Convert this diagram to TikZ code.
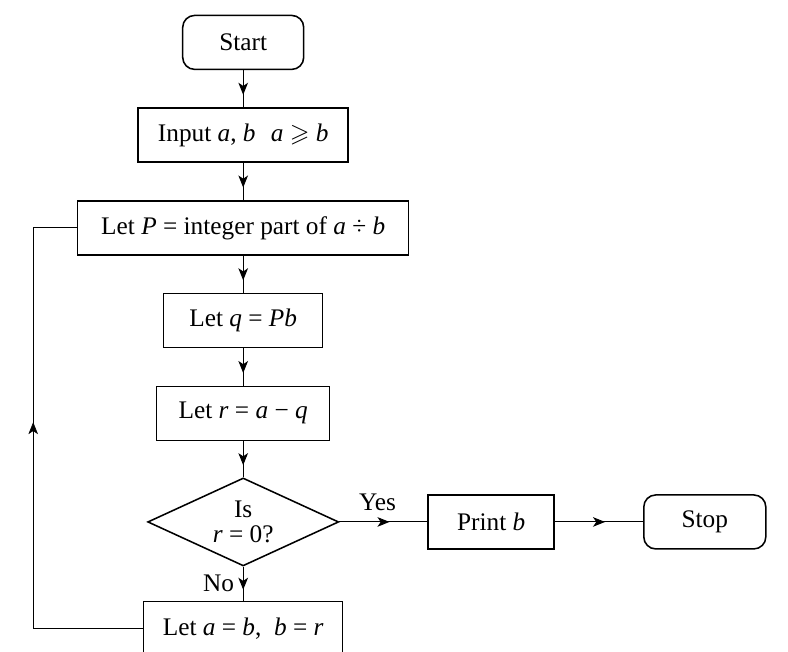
\documentclass[tikz,border=0pt]{standalone}
\usepackage{amssymb}
\usepackage{fontspec}
\setmainfont{Liberation Serif}
\usetikzlibrary{positioning,shapes.geometric,arrows.meta,decorations.markings}

\tikzset{
  box/.style={draw, line width=1.1pt, shape=rectangle, minimum height=1.35cm, font=\fontsize{18}{18}\selectfont},
  term/.style={box, rounded corners=0.3cm},
  decision/.style={draw, line width=1.1pt, shape=diamond, aspect=2.2, inner sep=0pt, style={minimum width=4.775cm, minimum height=2.2cm}, align=center, font=\fontsize{18}{18}\selectfont},
  wire/.style={line width=0.7pt},
  tip/.style={postaction={decorate}, decoration={markings, mark=at position 0.5 with {\pgftransformxshift{1.5mm}\arrow{Stealth[length=3mm, width=2.4mm, inset=0.8mm]}}}},
  flow/.style={wire, tip},
  lbl/.style={font=\fontsize{18}{18}\selectfont}
}

\begin{document}
\begin{tikzpicture}
        \useasboundingbox (0,0) rectangle (19.7,-16.275);
        \node[term, style={minimum width=3.025cm}] (start) at (6.08,-1.06) {Start};
        \node[box, style={minimum width=5.25cm}] (input) [below=0.93cm of start] {Input \textit{a}, \textit{b}\hspace{0.6em}\textit{a} $\geqslant$ \textit{b}};
        \node[box, style={minimum width=8.275cm}] (letP) [below=0.93cm of input] {Let \textit{P} = integer part of \textit{a} ÷ \textit{b}};
        \node[box, style={minimum width=3.975cm}] (letq) [below=0.93cm of letP] {Let \textit{q} = \textit{Pb}};
        \node[box, style={minimum width=4.325cm}] (letr) [below=0.93cm of letq] {Let \textit{r} = \textit{a} − \textit{q}};
        \node[decision] (test) [below=0.9cm of letr] {Is\\\textit{r} = 0?};
        \node[box, style={minimum width=4.975cm}] (swap) [below=0.85cm of test] {Let \textit{a} = \textit{b},\ \ \textit{b} = \textit{r}};
        \node[box, style={minimum width=3.15cm}] (print) [right=2.2cm of test] {Print \textit{b}};
        \node[term, style={minimum width=3.05cm}] (stop) [right=2.2cm of print] {Stop};
        \coordinate (loopx) at (0.83,0);

        \draw[flow] (start) -- (input);
        \draw[flow] (input) -- (letP);
        \draw[flow] (letP) -- (letq);
        \draw[flow] (letq) -- (letr);
        \draw[flow] (letr) -- (test);
        \draw[flow] (test) -- node[lbl, above, xshift=-1.5mm, yshift=1.5mm] {Yes} (print);
        \draw[flow] (print) -- (stop);
        \draw[flow] (test) -- node[lbl, left, xshift=-1mm] {No} (swap);
        \draw[wire] (swap.west) -| (loopx |- letP.west) -- (letP.west);
        \path[tip] (swap.west -| loopx) -- (letP.west -| loopx);

        \end{tikzpicture}
\end{document}
